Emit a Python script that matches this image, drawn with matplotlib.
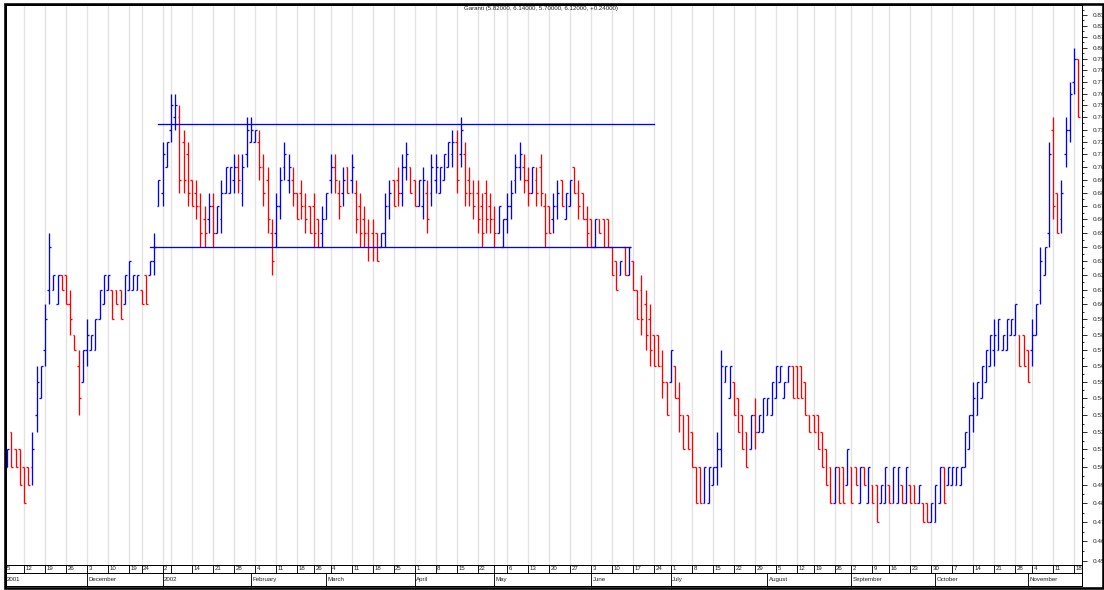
import numpy as np
import matplotlib
matplotlib.use('Agg')
import matplotlib.pyplot as plt
import matplotlib.transforms as mtransforms
from matplotlib.ticker import FixedLocator, NullFormatter
from matplotlib.patches import Rectangle

plt.rcParams['font.family'] = ['Liberation Sans', 'DejaVu Sans']

TITLE = 'Garanti (5.82000, 6.14000, 5.70000, 6.12000, +0.24000)'

# daily bars, prices in hundredths (first bar is the 2nd trading day)
opens = [
    50, 52, 51, 51, 50, 50, 50, 53, 54, 57,
    61, 61, 60, 62, 62, 60, 58, 56, 55, 57,
    57, 57, 59, 60, 61, 61, 61, 61, 60, 61,
    61, 61, 61, 62, 62, 63, 67, 68, 70, 73,
    74, 74, 72, 71, 69, 68, 67, 66, 66, 67,
    65, 66, 68, 68, 69, 70, 68, 71, 72, 72,
    72, 70, 69, 65, 65, 67, 70, 69, 69, 68,
    68, 67, 67, 67, 66, 65, 66, 69, 70, 68,
    68, 70, 69, 68, 67, 66, 65, 65, 65, 64,
    65, 67, 69, 69, 68, 70, 70, 69, 67, 67,
    68, 68, 69, 68, 69, 70, 71, 72, 71, 71,
    69, 68, 68, 67, 68, 67, 66, 65, 64, 66,
    67, 69, 70, 70, 69, 68, 69, 70, 67, 67,
    66, 67, 69, 66, 67, 70, 68, 68, 66, 66,
    64, 66, 66, 66, 64, 63, 62, 64, 62, 63,
    61, 61, 60, 59, 58, 58, 56, 55, 55, 56,
    54, 53, 53, 52, 50, 50, 48, 48, 49, 50,
    51, 55, 54, 55, 54, 53, 52, 51, 53, 52,
    52, 53, 53, 54, 55, 54, 55, 56, 56, 56,
    55, 53, 53, 53, 52, 51, 50, 48, 50, 50,
    49, 50, 50, 48, 50, 48, 49, 49, 48, 48,
    49, 48, 48, 49, 48, 49, 49, 48, 48, 48,
    47, 47, 48, 50, 49, 49, 49, 49, 50, 51,
    53, 53, 54, 55, 56, 57, 57, 57, 57, 58,
    58, 58, 58, 57, 57, 58, 61, 62, 65, 73,
    68, 66, 71, 73, 77, 79,
]
highs = [
    51, 52, 51, 51, 50, 50, 52, 56, 56, 60,
    65, 62, 62, 62, 62, 61, 58, 57, 57, 59,
    58, 59, 61, 62, 62, 61, 61, 61, 62, 63,
    62, 62, 61, 62, 63, 65, 69, 72, 72, 76,
    76, 75, 73, 72, 69, 69, 68, 67, 68, 68,
    67, 69, 70, 70, 71, 71, 71, 74, 74, 73,
    73, 71, 70, 66, 68, 70, 72, 71, 70, 68,
    69, 68, 67, 68, 66, 67, 68, 71, 71, 69,
    70, 70, 71, 69, 68, 67, 66, 66, 65, 65,
    68, 69, 69, 70, 71, 72, 70, 69, 69, 70,
    69, 71, 71, 70, 71, 72, 73, 73, 74, 72,
    70, 69, 69, 68, 69, 68, 67, 67, 66, 68,
    69, 71, 72, 71, 70, 70, 70, 71, 68, 67,
    68, 69, 69, 68, 69, 70, 69, 68, 67, 66,
    66, 66, 66, 66, 64, 63, 63, 64, 64, 63,
    61, 62, 61, 60, 58, 58, 57, 55, 57, 56,
    55, 53, 53, 52, 50, 50, 50, 50, 50, 52,
    57, 56, 56, 55, 54, 53, 52, 53, 54, 53,
    54, 54, 55, 56, 56, 55, 56, 56, 56, 56,
    55, 53, 53, 53, 52, 51, 50, 50, 50, 50,
    51, 50, 50, 50, 50, 50, 49, 49, 49, 50,
    49, 50, 50, 49, 50, 49, 49, 49, 48, 48,
    48, 49, 50, 50, 50, 50, 50, 50, 52, 53,
    55, 55, 56, 57, 58, 59, 59, 58, 59, 59,
    60, 58, 58, 57, 59, 60, 64, 64, 72, 74,
    68, 69, 74, 77, 80, 79,
]
lows = [
    50, 50, 50, 49, 48, 49, 49, 52, 54, 56,
    60, 61, 60, 61, 60, 58, 57, 53, 55, 56,
    57, 57, 59, 60, 61, 59, 60, 59, 60, 61,
    61, 61, 60, 60, 62, 62, 67, 67, 70, 72,
    73, 68, 68, 67, 67, 66, 64, 64, 65, 64,
    65, 65, 68, 68, 68, 68, 67, 70, 72, 72,
    69, 67, 65, 62, 64, 66, 69, 68, 67, 66,
    66, 65, 65, 64, 64, 64, 66, 68, 68, 66,
    67, 68, 68, 65, 64, 64, 63, 63, 63, 64,
    64, 66, 67, 67, 67, 69, 68, 67, 67, 66,
    65, 67, 68, 68, 69, 70, 70, 68, 70, 67,
    67, 66, 65, 64, 65, 65, 64, 65, 64, 65,
    66, 68, 69, 68, 67, 68, 67, 67, 64, 65,
    65, 66, 67, 66, 67, 68, 66, 66, 64, 64,
    64, 65, 64, 64, 62, 61, 62, 62, 62, 61,
    59, 58, 57, 56, 56, 56, 54, 53, 55, 54,
    52, 51, 51, 50, 48, 48, 48, 48, 49, 49,
    50, 55, 54, 53, 52, 51, 50, 51, 51, 52,
    52, 53, 53, 54, 55, 54, 55, 54, 54, 54,
    53, 52, 52, 51, 50, 49, 48, 48, 48, 48,
    49, 48, 49, 48, 49, 48, 48, 47, 48, 48,
    48, 48, 48, 48, 48, 48, 48, 48, 47, 47,
    47, 47, 48, 48, 49, 49, 49, 49, 50, 51,
    52, 53, 54, 55, 56, 56, 57, 57, 57, 58,
    58, 56, 56, 55, 56, 58, 60, 62, 64, 66,
    65, 65, 70, 72, 76, 74,
]
closes = [
    51, 50, 50, 49, 48, 49, 51, 55, 56, 59,
    64, 62, 62, 61, 60, 59, 57, 54, 57, 58,
    58, 59, 61, 62, 62, 59, 60, 59, 62, 63,
    62, 62, 60, 60, 63, 64, 69, 71, 72, 75,
    75, 69, 69, 68, 67, 67, 65, 65, 67, 65,
    67, 68, 70, 70, 70, 69, 70, 73, 73, 73,
    70, 68, 66, 63, 67, 69, 71, 70, 68, 66,
    67, 66, 65, 65, 64, 66, 68, 70, 69, 67,
    69, 68, 70, 66, 65, 65, 64, 64, 63, 65,
    67, 68, 67, 68, 70, 71, 68, 67, 69, 69,
    66, 70, 70, 70, 71, 72, 72, 69, 73, 68,
    68, 67, 66, 65, 66, 66, 65, 67, 66, 67,
    68, 70, 71, 69, 68, 70, 68, 68, 65, 65,
    67, 68, 67, 68, 69, 68, 67, 66, 65, 64,
    66, 65, 64, 64, 62, 61, 63, 62, 64, 61,
    59, 59, 58, 57, 56, 56, 55, 53, 57, 54,
    53, 51, 51, 50, 48, 48, 50, 50, 50, 51,
    56, 56, 56, 53, 52, 51, 50, 53, 52, 53,
    54, 54, 55, 56, 56, 55, 56, 54, 54, 54,
    53, 52, 52, 51, 50, 49, 48, 50, 48, 48,
    51, 48, 49, 50, 49, 50, 48, 47, 49, 50,
    48, 50, 50, 48, 50, 48, 48, 49, 47, 47,
    48, 49, 50, 48, 50, 50, 50, 50, 52, 53,
    54, 55, 56, 57, 58, 58, 59, 58, 59, 59,
    60, 56, 56, 55, 58, 60, 63, 64, 71, 67,
    65, 68, 73, 76, 79, 74,
]

# calendar: trading days per week and the label of each week
week_days = [5, 5, 5, 5, 5, 5, 3, 5, 2, 5, 5, 5, 5, 5, 5, 4, 4, 5, 5, 5,
             5, 5, 5, 5, 4, 3, 5, 5, 5, 5, 5, 5, 5, 4, 5, 5, 5, 5, 5, 5,
             4, 5, 4, 5, 4, 5, 5, 5, 5, 5, 5, 4, 5, 5, 2]
week_labels = ['5', '12', '19', '26', '3', '10', '19', '24', '2', '', '14', '21',
               '28', '4', '11', '18', '26', '4', '11', '18', '25', '1', '8', '15',
               '22', '', '6', '13', '20', '27', '3', '10', '17', '24', '1', '8',
               '15', '22', '29', '5', '12', '19', '26', '2', '9', '16', '23', '30',
               '7', '14', '21', '28', '4', '11', '18']
# trading-day number of the first session of each month
month_first_day = [0, 20, 38, 59, 77, 98, 117, 140, 159, 182, 202, 222, 244]
month_labels = ['2001', 'December', '2002', 'February', 'March', 'April', 'May',
                'June', 'July', 'August', 'September', 'October', 'November']

# drawn support / resistance lines: (from day, to day, level)
trend_lines = [(37, 155, 0.7345), (35, 149.3, 0.640)]

W, H = 1104, 590
fig = plt.figure(figsize=(W / 100, H / 100), dpi=100)
px = 72 / 100  # one pixel in points

left, right, top, bottom = 6, 1082, 5, 565
XMIN, XMAX = 0.7, 256.9
ax = fig.add_axes([left / W, 1 - bottom / H, (right - left) / W, (bottom - top) / H])

o = np.array(opens) / 100
h = np.array(highs) / 100
l = np.array(lows) / 100
c = np.array(closes) / 100
x = np.arange(1, len(c) + 1)

week_start = np.concatenate([[0], np.cumsum(week_days)[:-1]])

ax.vlines(week_start, 0.3, 1.0, color='#e2e2e2', lw=1.3 * px, zorder=0)

for mask, col in [(c >= o, '#0000ff'), (c < o, '#ff0000')]:
    ax.vlines(x[mask], l[mask], h[mask], color=col, lw=1.3 * px, zorder=2)
    ax.hlines(o[mask], x[mask] - 0.45, x[mask], color=col, lw=1.3 * px, zorder=2)
    ax.hlines(c[mask], x[mask], x[mask] + 0.45, color=col, lw=1.3 * px, zorder=2)

for x0, x1, lev in trend_lines:
    ax.plot([x0, x1], [lev, lev], color='#0000ff', lw=1.3 * px, zorder=3)

ax.set_yscale('log')
ax.set_ylim(0.448, 0.8394)
ax.set_xlim(XMIN, XMAX)

major = np.arange(45, 84) / 100
ax.yaxis.set_major_locator(FixedLocator(major))
ax.yaxis.set_minor_locator(FixedLocator(major + 0.005))
ax.yaxis.set_major_formatter(matplotlib.ticker.FuncFormatter(lambda v, p: f'{v:.2f}'))
ax.yaxis.set_minor_formatter(NullFormatter())
ax.yaxis.tick_right()
ax.tick_params(axis='y', which='major', direction='out', length=4.5 * px, width=0.8 * px,
               pad=6 * px, labelsize=4.6, labelcolor='#222222')
ax.tick_params(axis='y', which='minor', direction='out', length=2.5 * px, width=0.8 * px)
ax.tick_params(axis='x', which='both', bottom=False, labelbottom=False)
for sp in ax.spines.values():
    sp.set_linewidth(1.0 * px)

fig.text(541 / W, 1 - 8.5 / H, TITLE, ha='center', va='center', fontsize=4.4, color='#222222')

# date rows under the chart
shift = mtransforms.ScaledTranslation(1.5 / 100, 0, fig.dpi_scale_trans)


def date_row(y0, y1, starts, labels):
    a = fig.add_axes([left / W, 1 - y1 / H, (right - left) / W, (y1 - y0) / H], sharex=ax)
    a.set_yticks([])
    a.tick_params(axis='x', which='both', bottom=False, labelbottom=False)
    for sp in a.spines.values():
        sp.set_linewidth(1.0 * px)
    a.vlines(starts, 0, 1, color='black', lw=0.9 * px, transform=a.get_xaxis_transform())
    for s, lab in zip(starts, labels):
        a.text(max(s, XMIN - 0.2), 0.5, lab, transform=a.get_xaxis_transform() + shift,
               ha='left', va='center', fontsize=4.4, color='#222222', clip_on=True)
    return a


date_row(bottom, 573, week_start, week_labels)
date_row(573, 586, month_first_day, month_labels)

# heavy outer frame
fig.add_artist(Rectangle((4.6 / W, 2.1 / H), 1098.3 / W, 584 / H, transform=fig.transFigure,
                         fill=False, edgecolor='black', lw=2.6 * px, zorder=10))

fig.savefig('out.png', dpi=100)
